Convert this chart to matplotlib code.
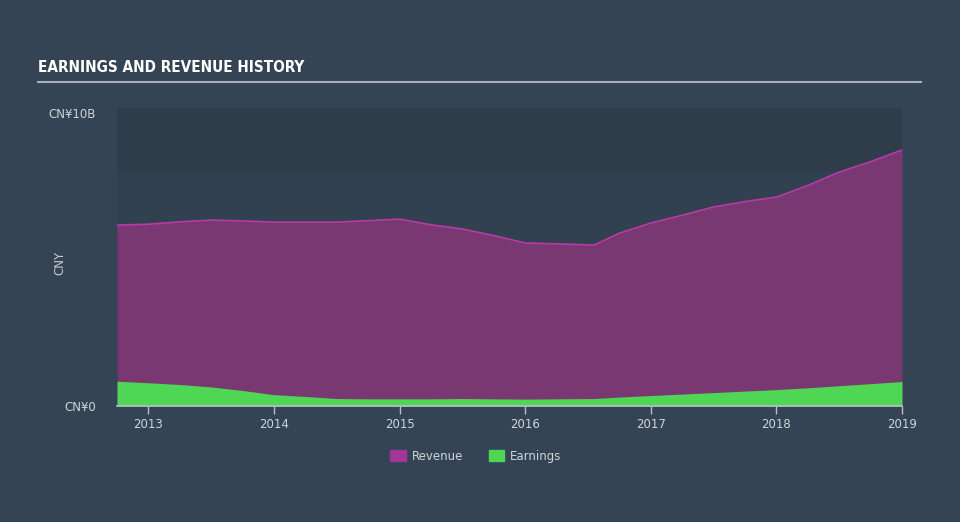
import matplotlib
matplotlib.use("Agg")
import matplotlib.pyplot as plt
from matplotlib.patches import Patch
from matplotlib import font_manager

# Data (CNY billions)
years = [2012.75, 2013.0, 2013.25, 2013.5, 2013.75, 2014.0, 2014.25, 2014.5, 2014.75, 2015.0,
         2015.25, 2015.5, 2015.75, 2016.0, 2016.25, 2016.55, 2016.75, 2017.0, 2017.25, 2017.5,
         2017.75, 2018.0, 2018.25, 2018.5, 2018.75, 2019.0]
revenue = [6.07, 6.10, 6.18, 6.24, 6.21, 6.17, 6.17, 6.17, 6.22, 6.27,
           6.08, 5.94, 5.72, 5.47, 5.44, 5.40, 5.80, 6.14, 6.40, 6.68,
           6.86, 7.01, 7.40, 7.85, 8.20, 8.59]
earnings = [0.83, 0.78, 0.72, 0.64, 0.52, 0.38, 0.32, 0.25, 0.24, 0.24,
            0.24, 0.25, 0.24, 0.23, 0.24, 0.25, 0.30, 0.35, 0.40, 0.45,
            0.50, 0.55, 0.61, 0.68, 0.75, 0.82]
xticks = [2013, 2014, 2015, 2016, 2017, 2018, 2019]
ytick_vals = [0, 10]
ytick_labels = ["CN¥0", "CN¥10B"]

bg = "#344454"
fig = plt.figure(figsize=(9.6, 5.22), dpi=100, facecolor=bg)
ax = fig.add_axes([117/960, 1-406/522, (902-117)/960, (406-108)/522])
ax.set_facecolor("#324150")

ax.axhspan(7.9, 10, color="#2f3d4b", zorder=0, lw=0)

ax.fill_between(years, 0, revenue, color="#7a3873", lw=0, zorder=2)
ax.plot(years, revenue, color="#b83aa8", lw=1.2, zorder=3)
ax.fill_between(years, 0, earnings, color="#50d655", lw=0, zorder=4)

ax.set_xlim(2012.75, 2019.0)
ax.set_ylim(0, 10)

for s in ["top", "right", "left"]:
    ax.spines[s].set_visible(False)
ax.spines["bottom"].set_color("#b8bec6")
ax.spines["bottom"].set_linewidth(1.2)
ax.spines["bottom"].set_zorder(6)

ax.set_xticks(xticks)
ax.set_xticklabels([str(y) for y in xticks])
ax.tick_params(axis="x", colors="#b8bec6", length=6, width=1, labelcolor="#d0d4d9",
               labelsize=8.5, pad=3)
ax.set_yticks(ytick_vals)
ax.set_yticklabels(ytick_labels)
ax.tick_params(axis="y", length=0, labelcolor="#d0d4d9", labelsize=8.5, pad=15)
ax.get_yticklabels()[1].set_verticalalignment("top")

fig.text(60/960, 1-263/522, "CNY", rotation=90, color="#c8ccd2", fontsize=8.5,
         ha="center", va="center")

names = {f.name for f in font_manager.fontManager.ttflist}
title_family = "Liberation Sans Narrow" if "Liberation Sans Narrow" in names else "DejaVu Sans"
t = fig.text(38/960, 1-68/522, "EARNINGS AND REVENUE HISTORY", color="white",
             fontsize=11, fontweight="bold", family=[title_family, "DejaVu Sans"],
             fontstretch="condensed", ha="left", va="center")
fig.add_artist(plt.Line2D([38/960, 921/960], [1-82/522, 1-82/522], color="#aab0b8", lw=1.5))

handles = [Patch(color="#a0359a", label="Revenue"), Patch(color="#50d655", label="Earnings")]
fig.legend(handles=handles, loc="center", bbox_to_anchor=(476/960, 1-456/522), ncol=2,
           frameon=False, fontsize=8.5, labelcolor="#d0d4d9", handlelength=1.3,
           handleheight=1.0, columnspacing=2.2, handletextpad=0.5)

fig.savefig("out.png", dpi=100, facecolor=bg)
